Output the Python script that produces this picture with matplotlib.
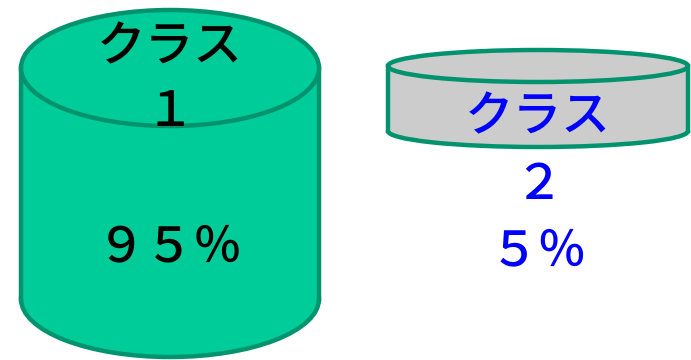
import matplotlib
matplotlib.use('Agg')
import matplotlib.pyplot as plt
from matplotlib.patches import Ellipse, Rectangle

plt.rcParams['font.family'] = ['Noto Sans CJK JP', 'DejaVu Sans']

# データ
classes = ['クラス', 'クラス']
class_nums = ['１', '２']
shares = [95, 5]
fills = ['#00CC99', '#CCCCCC']
text_colors = ['black', '#0000FF']

# 円柱の配置 (ピクセル座標)
cx = [170, 538]
width = [298, 300]
top_y = [68, 66]
bottom_y = [299, 131]
ry = [58, 16]
edge = '#00936E'

fig = plt.figure(figsize=(6.91, 3.6), dpi=100)
ax = fig.add_axes([0, 0, 1, 1])
ax.set_xlim(0, 691)
ax.set_ylim(360, 0)
ax.axis('off')

for i in range(len(shares)):
    x0 = cx[i] - width[i] / 2
    x1 = cx[i] + width[i] / 2
    # 底面
    ax.add_patch(Ellipse((cx[i], bottom_y[i]), width[i], 2 * ry[i],
                         facecolor=fills[i], edgecolor=edge, lw=3.2, zorder=1))
    # 側面
    ax.add_patch(Rectangle((x0, top_y[i]), width[i], bottom_y[i] - top_y[i],
                           facecolor=fills[i], edgecolor='none', zorder=2))
    ax.plot([x0, x0], [top_y[i], bottom_y[i]], color=edge, lw=3.2, zorder=3)
    ax.plot([x1, x1], [top_y[i], bottom_y[i]], color=edge, lw=3.2, zorder=3)
    # 上面
    ax.add_patch(Ellipse((cx[i], top_y[i]), width[i], 2 * ry[i],
                         facecolor=fills[i], edgecolor=edge, lw=3.2, zorder=4))

# ラベル
label_y = [[47, 112, 247], [117, 185, 251]]
pct_txt = ['９５％', '５％']
for i in range(len(shares)):
    lines = [classes[i], class_nums[i], pct_txt[i]]
    for t, y in zip(lines, label_y[i]):
        ax.text(cx[i], y, t, ha='center', va='center', fontsize=35,
                weight='medium', color=text_colors[i], zorder=5)

fig.savefig('out.png', dpi=100)
